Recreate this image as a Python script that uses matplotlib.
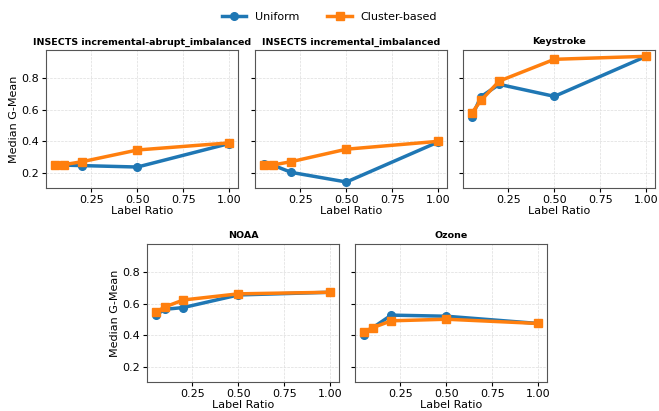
import matplotlib
matplotlib.use("Agg")
import matplotlib.pyplot as plt

ratios = [0.05, 0.1, 0.2, 0.5, 1.0]
titles = ["INSECTS incremental-abrupt_imbalanced", "INSECTS incremental_imbalanced",
          "Keystroke", "NOAA", "Ozone"]
uniform = [
    [0.252, 0.250, 0.247, 0.238, 0.387],
    [0.257, 0.250, 0.204, 0.143, 0.397],
    [0.556, 0.684, 0.762, 0.686, 0.940],
    [0.530, 0.566, 0.577, 0.657, 0.674],
    [0.406, 0.450, 0.529, 0.522, 0.476],
]
cluster = [
    [0.251, 0.253, 0.272, 0.346, 0.391],
    [0.251, 0.251, 0.272, 0.351, 0.401],
    [0.580, 0.660, 0.783, 0.921, 0.940],
    [0.547, 0.581, 0.625, 0.664, 0.674],
    [0.423, 0.450, 0.493, 0.503, 0.476],
]

W, H = 659, 411
fig = plt.figure(figsize=(W / 100, H / 100), dpi=100)

def box(l, t, w=192, h=138):
    return [l / W, 1 - (t + h) / H, w / W, h / H]

positions = [box(46, 50), box(255, 50), box(463, 50), box(147, 244), box(355, 244)]
axes = []
first = None
for i, pos in enumerate(positions):
    ax = fig.add_axes(pos, sharey=first) if first is not None else fig.add_axes(pos)
    if first is None:
        first = ax
    axes.append(ax)
    l1, = ax.plot(ratios, uniform[i], color="#1f77b4", marker="o", lw=2.5, ms=5.5, label="Uniform")
    l2, = ax.plot(ratios, cluster[i], color="#ff7f0e", marker="s", lw=2.5, ms=6, label="Cluster-based")
    ax.set_title(titles[i], fontsize=6.8, fontweight="bold", pad=4)
    ax.set_xlabel("Label Ratio", fontsize=8, labelpad=1)
    ax.set_xticks([0.25, 0.5, 0.75, 1.0])
    ax.set_yticks([0.2, 0.4, 0.6, 0.8])
    ax.tick_params(labelsize=8, length=3, pad=2)
    ax.grid(True, ls="--", lw=0.5, color="#dddddd")
    for s in ax.spines.values():
        s.set_color("#555555")
        s.set_linewidth(0.8)
    if i in (0, 3):
        ax.set_ylabel("Median G-Mean", fontsize=8, labelpad=2)
    else:
        ax.tick_params(labelleft=False)

first.set_ylim(0.105, 0.98)
for ax in axes:
    ax.set_xlim(0.0025, 1.0475)

fig.legend(handles=[l1, l2], loc="upper center", bbox_to_anchor=(0.5, 0.995), ncol=2,
           frameon=False, fontsize=8, handlelength=2.2, columnspacing=2.5)
fig.savefig("out.png", dpi=100)
